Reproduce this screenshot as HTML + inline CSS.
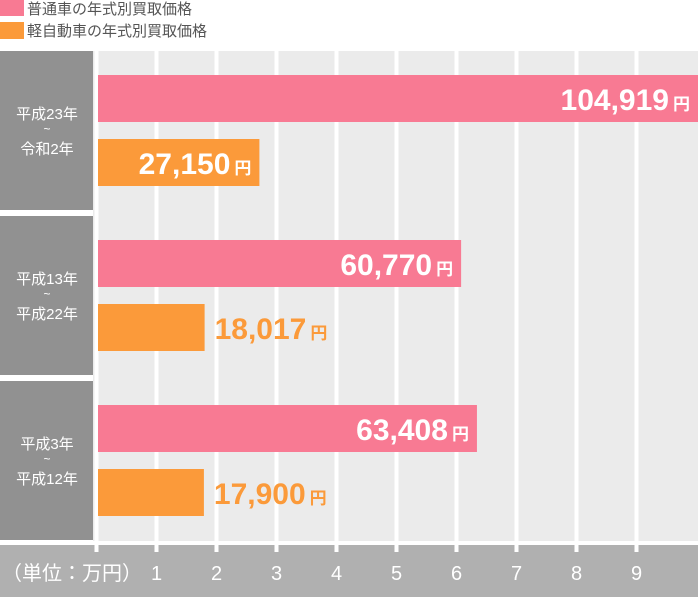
<!DOCTYPE html>
<html><head><meta charset="utf-8"><style>
body{margin:0;width:698px;height:597px;background:#fff;overflow:hidden;font-family:"Liberation Sans","Noto Sans CJK JP",sans-serif}
svg text{font-family:"Liberation Sans","Noto Sans CJK JP",sans-serif}
</style></head><body>
<svg id="c" width="698" height="597">
<g>
<rect x="0" y="0" width="24" height="16" fill="#f87a93"/>
<text x="27" y="14" font-size="15" fill="#555">普通車の年式別買取価格</text>
<rect x="0" y="22" width="24" height="17" fill="#fb9a3a"/>
<text x="27" y="36" font-size="15" fill="#555">軽自動車の年式別買取価格</text>
</g>
<rect x="93" y="51" width="605" height="494" fill="#ebebeb"/>
<rect x="0" y="545" width="698" height="52" fill="#b0b0b0"/>
<g id="grid"></g><g id="groups"></g><g id="bars"></g><g id="axis"></g>
</svg>
<script>
const categories=[["平成23年","令和2年"],["平成13年","平成22年"],["平成3年","平成12年"]];
const regularValues=[104919,60770,63408];
const keiValues=[27150,18017,17900];
const tickLabels=["1","2","3","4","5","6","7","8","9"];
const NS="http://www.w3.org/2000/svg";
const x0=96.5, pxPer=60/10000;
const xs=v=>x0+v*pxPer;
const gTop=i=>51+i*165;
function mk(tag,attrs,parent,txt){const e=document.createElementNS(NS,tag);for(const k in attrs)e.setAttribute(k,attrs[k]);if(txt!=null)e.textContent=txt;parent.appendChild(e);return e;}
const grid=document.getElementById('grid'),groups=document.getElementById('groups'),bars=document.getElementById('bars'),axis=document.getElementById('axis');
for(let t=0;t<=tickLabels.length;t++){
 const x=xs(t*10000);
 const l=mk('rect',{x:x-2,y:51,width:4,height:501,fill:'#fff'},grid);
 
 
}
mk('rect',{x:0,y:541,width:698,height:4,fill:'#fff'},grid);
for(let i=0;i<tickLabels.length;i++){
 const t=mk('text',{x:xs((i+1)*10000),y:580,'font-size':20,fill:'#fff','text-anchor':'middle'},axis,tickLabels[i]);
 
 
}
const u=mk('text',{x:2,y:580,'font-size':20,fill:'#fff'},axis,"（単位：万円）");


categories.forEach((c,i)=>{
 const y=gTop(i);
 const b=mk('rect',{x:0,y:y,width:93,height:159,fill:'#919191'},groups);
 
 
 const t1=mk('text',{x:47,y:y+68,'font-size':15,fill:'#fff','text-anchor':'middle'},groups,c[0]);
 
 
 const t2=mk('text',{x:47,y:y+82,'font-size':12,fill:'#fff','text-anchor':'middle'},groups,"~");
 
 
 const t3=mk('text',{x:47,y:y+103,'font-size':15,fill:'#fff','text-anchor':'middle'},groups,c[1]);
 
 
 [[regularValues[i],'#f87a93',24,'regular'],[keiValues[i],'#fb9a3a',88,'kei']].forEach(([v,col,off,nm])=>{
  const xe=xs(v), w=Math.min(xe,698)-98;
  const r=mk('rect',{x:98,y:y+off,width:w,height:47,fill:col},bars);
  
  
  const inside=w>150;
  const right=Math.min(xe,698);
  const tx=inside?right-8:xe+10;
  const t=mk('text',{x:tx,y:y+off+35,'font-size':30,'font-weight':'bold',fill:inside?'#fff':col,'text-anchor':inside?'end':'start'},bars);
  
  
  const s1=mk('tspan',{},t,v.toLocaleString('en-US'));
  const s2=mk('tspan',{'font-size':17,dx:4},t,'円');
 });
});
</script>
</body></html>
